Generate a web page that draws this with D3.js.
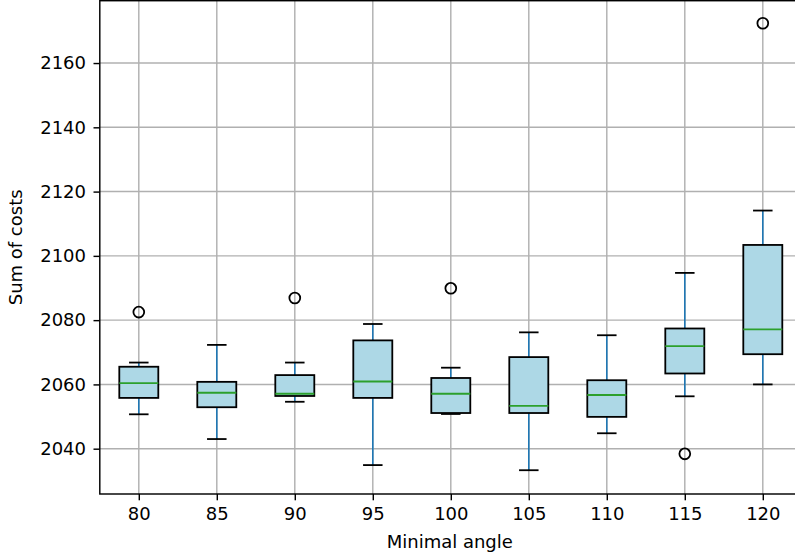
<!DOCTYPE html>
<html>
<head>
<meta charset="utf-8">
<script src="https://cdn.jsdelivr.net/npm/d3@7"></script>
<style>
  html, body { margin: 0; padding: 0; background: #fff; }
  svg { display: block; }
  text { font-family: "DejaVu Sans", sans-serif; fill: #000; }
</style>
</head>
<body>
<svg id="chart" width="795" height="558"></svg>
<script>
// Minimal angle groups and their box-plot statistics (sum of costs)
const angles      = [80, 85, 90, 95, 100, 105, 110, 115, 120];
const whiskerLow  = [2050.7, 2043.0, 2054.6, 2034.9, 2050.8, 2033.3, 2044.8, 2056.3, 2060.0];
const q1          = [2055.8, 2052.9, 2056.4, 2055.8, 2051.1, 2051.1, 2049.9, 2063.4, 2069.4];
const medians     = [2060.4, 2057.4, 2057.1, 2060.9, 2057.1, 2053.3, 2056.7, 2071.9, 2077.1];
const q3          = [2065.5, 2060.8, 2062.9, 2073.7, 2062.0, 2068.5, 2061.3, 2077.4, 2103.4];
const whiskerHigh = [2066.8, 2072.3, 2066.8, 2078.8, 2065.2, 2076.2, 2075.3, 2094.7, 2114.1];
const outliers    = [[2082.5], [], [2086.9], [], [2089.9], [], [], [2038.4], [2172.4]];
const yTicks      = [2040, 2060, 2080, 2100, 2120, 2140, 2160];

const svg = d3.select("#chart");

const plotLeft = 99.8, plotTop = 0.7, plotBottom = 494;
const step = 78;
const plotRight = plotLeft + step * angles.length;

// Positions 1..n with half a slot of padding each side
const x = d3.scaleLinear().domain([0.5, angles.length + 0.5]).range([plotLeft, plotRight]);
const y = d3.scaleLinear().domain([2025.9, 2179.4]).range([plotBottom, plotTop]);

const fontSize = 18;
const boxW = step * 0.5;
const capW = step * 0.25;

// Grid
const grid = svg.append("g");
grid.selectAll("line.gy").data(yTicks).join("line")
  .attr("class", "gy")
  .attr("x1", plotLeft).attr("x2", plotRight)
  .attr("y1", d => y(d)).attr("y2", d => y(d))
  .attr("stroke", "#b0b0b0").attr("stroke-width", 1.44);
grid.selectAll("line.gx").data(angles).join("line")
  .attr("class", "gx")
  .attr("x1", (d, i) => x(i + 1)).attr("x2", (d, i) => x(i + 1))
  .attr("y1", plotTop).attr("y2", plotBottom)
  .attr("stroke", "#b0b0b0").attr("stroke-width", 1.44);

// Boxes
const boxes = svg.append("g").selectAll("g").data(angles).join("g");

boxes.append("line")
  .attr("x1", (d, i) => x(i + 1)).attr("x2", (d, i) => x(i + 1))
  .attr("y1", (d, i) => y(q1[i])).attr("y2", (d, i) => y(whiskerLow[i]))
  .attr("stroke", "#1f77b4").attr("stroke-width", 1.6);
boxes.append("line")
  .attr("x1", (d, i) => x(i + 1)).attr("x2", (d, i) => x(i + 1))
  .attr("y1", (d, i) => y(q3[i])).attr("y2", (d, i) => y(whiskerHigh[i]))
  .attr("stroke", "#1f77b4").attr("stroke-width", 1.6);

boxes.append("line")
  .attr("x1", (d, i) => x(i + 1) - capW / 2).attr("x2", (d, i) => x(i + 1) + capW / 2)
  .attr("y1", (d, i) => y(whiskerLow[i])).attr("y2", (d, i) => y(whiskerLow[i]))
  .attr("stroke", "#000").attr("stroke-width", 1.8);
boxes.append("line")
  .attr("x1", (d, i) => x(i + 1) - capW / 2).attr("x2", (d, i) => x(i + 1) + capW / 2)
  .attr("y1", (d, i) => y(whiskerHigh[i])).attr("y2", (d, i) => y(whiskerHigh[i]))
  .attr("stroke", "#000").attr("stroke-width", 1.8);

boxes.append("rect")
  .attr("x", (d, i) => x(i + 1) - boxW / 2)
  .attr("width", boxW)
  .attr("y", (d, i) => y(q3[i]))
  .attr("height", (d, i) => y(q1[i]) - y(q3[i]))
  .attr("fill", "#add8e6").attr("stroke", "#000").attr("stroke-width", 1.8);

boxes.append("line")
  .attr("x1", (d, i) => x(i + 1) - boxW / 2).attr("x2", (d, i) => x(i + 1) + boxW / 2)
  .attr("y1", (d, i) => y(medians[i])).attr("y2", (d, i) => y(medians[i]))
  .attr("stroke", "#2ca02c").attr("stroke-width", 1.8);

boxes.each(function (d, i) {
  d3.select(this).selectAll("circle").data(outliers[i]).join("circle")
    .attr("cx", x(i + 1)).attr("cy", v => y(v)).attr("r", 5.4)
    .attr("fill", "none").attr("stroke", "#000").attr("stroke-width", 1.8);
});

// Axes
const yAxis = svg.append("g").attr("transform", `translate(${plotLeft},0)`)
  .call(d3.axisLeft(y).tickValues(yTicks).tickSize(6.3).tickPadding(7.5).tickFormat(d3.format("d")));
const xAxis = svg.append("g").attr("transform", `translate(0,${plotBottom})`)
  .call(d3.axisBottom(x).tickValues(d3.range(1, angles.length + 1)).tickSize(6.3).tickPadding(6.5)
    .tickFormat(d => angles[d - 1]));
[yAxis, xAxis].forEach(a => {
  a.select(".domain").remove();
  a.selectAll(".tick line").attr("stroke", "#000").attr("stroke-width", 1.44);
  a.selectAll(".tick text").attr("font-size", fontSize).attr("font-family", "DejaVu Sans").attr("fill", "#000");
});

// Frame
svg.append("rect")
  .attr("x", plotLeft).attr("y", plotTop)
  .attr("width", plotRight - plotLeft).attr("height", plotBottom - plotTop)
  .attr("fill", "none").attr("stroke", "#000").attr("stroke-width", 1.44);

// Axis titles
svg.append("text")
  .attr("x", (plotLeft + plotRight) / 2 - 1).attr("y", 548)
  .attr("text-anchor", "middle").attr("font-size", fontSize)
  .text("Minimal angle");
svg.append("text")
  .attr("transform", `translate(22,${(plotTop + plotBottom) / 2}) rotate(-90)`)
  .attr("text-anchor", "middle").attr("font-size", fontSize)
  .text("Sum of costs");
</script>
</body>
</html>
